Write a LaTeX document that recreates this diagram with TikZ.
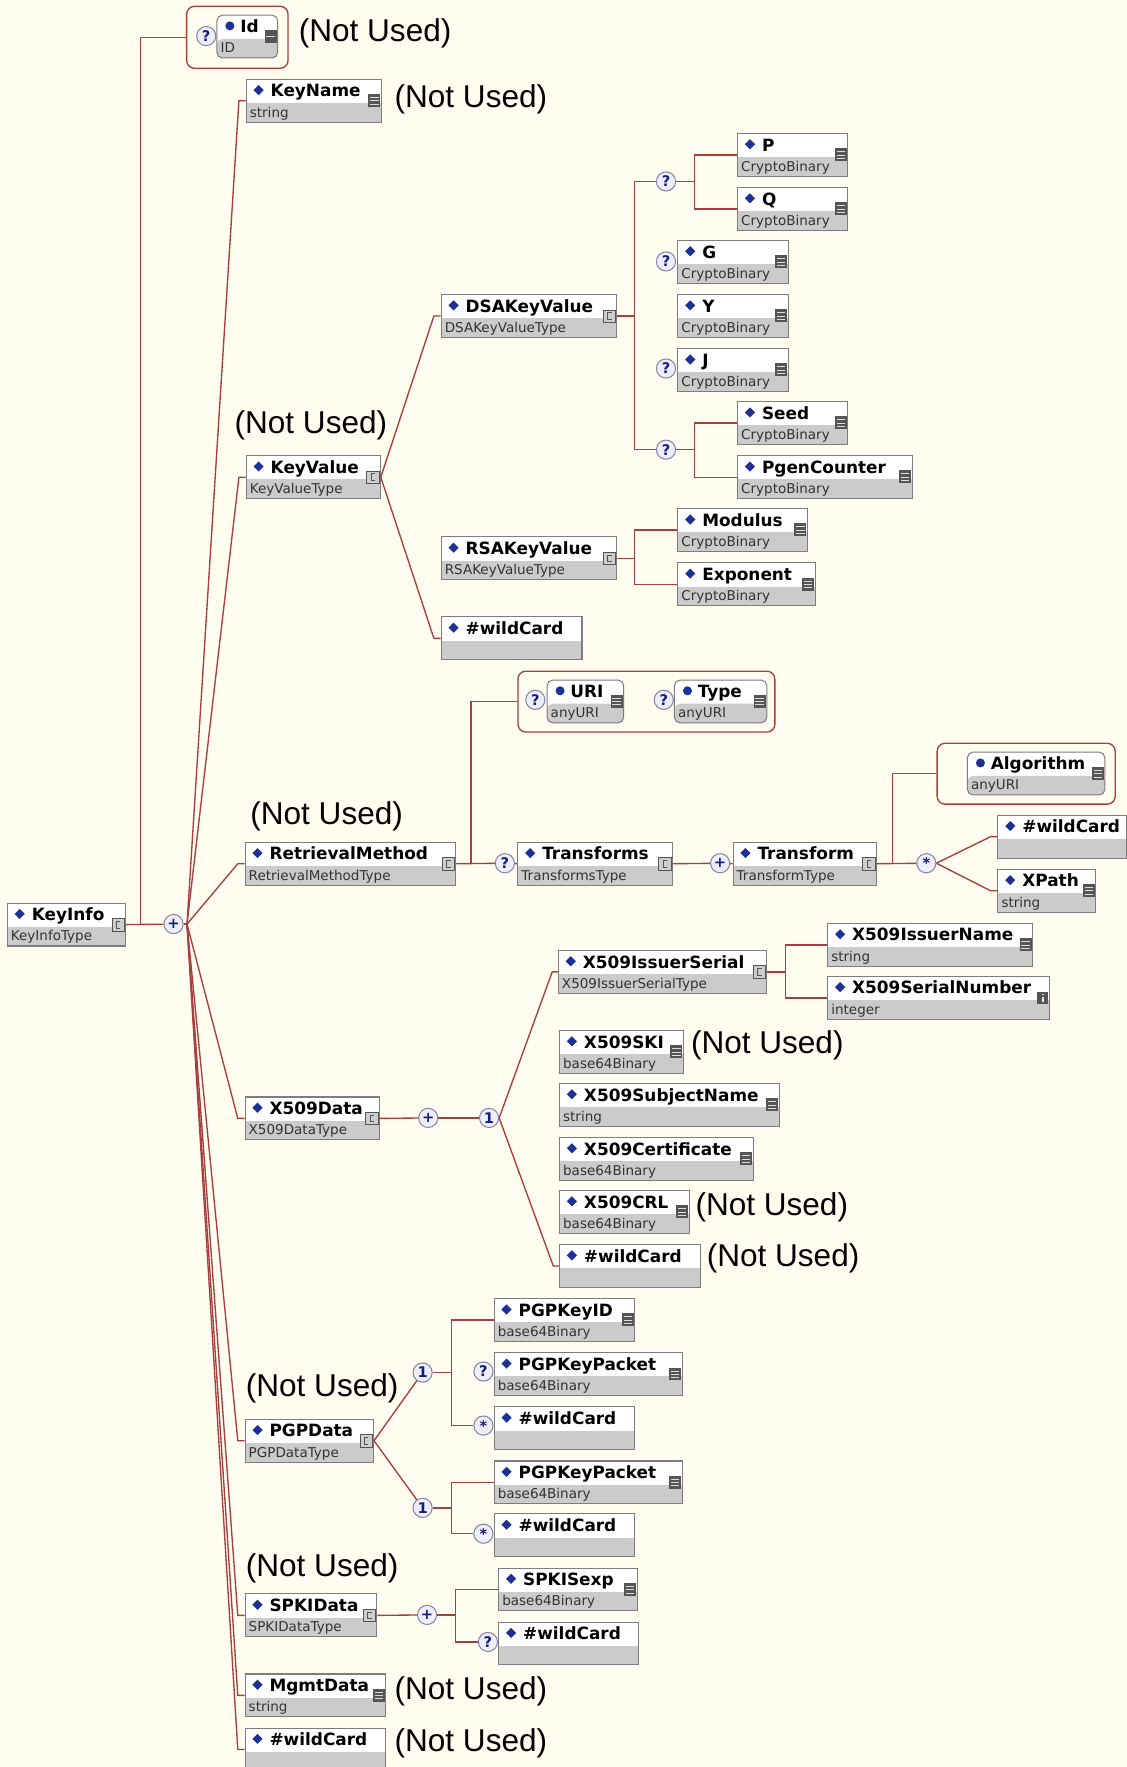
\documentclass[tikz,border=0pt]{standalone}
\usepackage{fontspec}
\newfontfamily\dvsans{DejaVu Sans}
\newfontfamily\arialike{Liberation Sans}

\definecolor{paper}{RGB}{255,253,240}
\definecolor{wire}{RGB}{168,62,62}
\definecolor{boxline}{RGB}{125,125,125}
\definecolor{rowgray}{RGB}{203,203,203}
\definecolor{elmark}{RGB}{28,48,150}
\definecolor{icondark}{RGB}{85,85,85}
\definecolor{iconlight}{RGB}{205,205,205}
\definecolor{compfill}{RGB}{238,238,250}
\definecolor{compline}{RGB}{130,130,165}
\definecolor{compmark}{RGB}{20,30,125}

\tikzset{
  elbox/.style={draw=boxline, line width=0.9pt, fill=white, minimum height=38pt,
    inner sep=0pt, anchor=north west,
    path picture={\fill[rowgray] ([yshift=-21pt]path picture bounding box.north west)
      rectangle (path picture bounding box.south east);}},
  atbox/.style={elbox, rounded corners=5pt},
  nametext/.style={anchor=base west, inner sep=0pt,
    font=\dvsans\bfseries\fontsize{15}{15}\selectfont},
  typetext/.style={anchor=base west, inner sep=0pt, text=black!80,
    font=\dvsans\fontsize{12}{12}\selectfont},
  conn/.style={draw=wire, line width=1.2pt},
  grpbox/.style={draw=wire, line width=1.2pt, rounded corners=7pt,
    anchor=north west, inner sep=0pt},
  compo/.style={circle, draw=compline, line width=0.9pt, fill=compfill,
    minimum size=17pt, inner sep=0pt, text=compmark,
    font=\dvsans\bfseries\fontsize{13}{13}\selectfont},
  unused/.style={anchor=west, inner sep=0pt,
    font=\arialike\fontsize{28}{28}\selectfont},
}

% small type icons at the right edge of an element box
\newcommand\icdoc[1]{%
  \fill[icondark] ([shift={(-12pt,-13.5pt)}]#1.north east) rectangle ([shift={(-1.5pt,-25pt)}]#1.north east);
  \foreach \k in {16.5,19.5,22.5}{\draw[white!80!icondark, line width=0.7pt]
    ([shift={(-10.5pt,-\k pt)}]#1.north east) -- ([shift={(-3pt,-\k pt)}]#1.north east);}}
\newcommand\icbar[1]{%
  \fill[icondark] ([shift={(-12pt,-14pt)}]#1.north east) rectangle ([shift={(-1.5pt,-25pt)}]#1.north east);
  \draw[white!80!icondark, line width=0.8pt]
    ([shift={(-10.5pt,-19.5pt)}]#1.north east) -- ([shift={(-3pt,-19.5pt)}]#1.north east);}
\newcommand\iccplx[1]{%
  \filldraw[fill=iconlight, draw=icondark, line width=0.6pt]
    ([shift={(-12.5pt,-14pt)}]#1.north east) rectangle ([shift={(-1.5pt,-25pt)}]#1.north east);
  \draw[icondark, line width=0.8pt] ([shift={(-5pt,-16.5pt)}]#1.north east)
    -- ++(-3.5pt,0) -- ++(0,-6pt) -- ++(3.5pt,0);}
\newcommand\icint[1]{%
  \fill[icondark] ([shift={(-12pt,-14pt)}]#1.north east) rectangle ([shift={(-1.5pt,-25pt)}]#1.north east);
  \fill[white!85!icondark] ([shift={(-7.6pt,-15.8pt)}]#1.north east) rectangle ([shift={(-5.9pt,-17.3pt)}]#1.north east);
  \fill[white!85!icondark] ([shift={(-7.6pt,-18.5pt)}]#1.north east) rectangle ([shift={(-5.9pt,-23.2pt)}]#1.north east);}
\newcommand\icnone[1]{}

% element box: name, x, y (top left), width, label, type, icon
\newcommand\elem[7]{%
  \node[elbox, minimum width=#4pt] (#1) at (#2,#3) {};
  \fill[elmark] ([shift={(7pt,-10pt)}]#1.north west) -- ++(4.5pt,4.5pt) -- ++(4.5pt,-4.5pt)
    -- ++(-4.5pt,-4.5pt) -- cycle;
  \node[nametext] (#1-n) at ([shift={(22pt,-16pt)}]#1.north west) {#5};
  \node[typetext] (#1-t) at ([shift={(3.5pt,-34pt)}]#1.north west) {#6};
  \csname ic#7\endcsname{#1}}

% attribute box: name, x, y, width, label, type, icon
\newcommand\attr[7]{%
  \node[atbox, minimum width=#4pt] (#1) at (#2,#3) {};
  \fill[elmark] ([shift={(12pt,-10pt)}]#1.north west) circle (4pt);
  \node[nametext] (#1-n) at ([shift={(21pt,-16pt)}]#1.north west) {#5};
  \node[typetext] (#1-t) at ([shift={(3.5pt,-34pt)}]#1.north west) {#6};
  \csname ic#7\endcsname{#1}}

% compositor circle
\newcommand\comp[4]{\node[compo] (#1) at (#2,#3) {#4};}

\begin{document}
\begin{tikzpicture}[x=1pt, y=-1pt]
\useasboundingbox (0,0) rectangle (1000,1568);
\clip (0,0) rectangle (1000,1568);
\fill[paper] (0,0) rectangle (1000,1568);

% ---------- groups of attributes
\node[grpbox, minimum width=90pt, minimum height=55pt] (idgrp) at (165,5) {};
\node[grpbox, minimum width=228pt, minimum height=54pt] (urigrp) at (459,595) {};
\node[grpbox, minimum width=158pt, minimum height=54pt] (alggrp) at (831,659) {};

% ---------- elements
\elem{keyinfo}{6}{801}{105}{KeyInfo}{KeyInfoType}{cplx}
\attr{idattr}{192}{13}{54}{Id}{ID}{bar}
\elem{keyname}{218}{70}{120}{KeyName}{string}{doc}
\elem{keyvalue}{218}{404}{119}{KeyValue}{KeyValueType}{cplx}
\elem{dsa}{391}{261}{156}{DSAKeyValue}{DSAKeyValueType}{cplx}
\elem{p}{654}{118}{98}{P}{CryptoBinary}{doc}
\elem{q}{654}{166}{98}{Q}{CryptoBinary}{doc}
\elem{g}{601}{213}{98}{G}{CryptoBinary}{doc}
\elem{yy}{601}{261}{98}{Y}{CryptoBinary}{doc}
\elem{j}{601}{309}{98}{J}{CryptoBinary}{doc}
\elem{seed}{654}{356}{98}{Seed}{CryptoBinary}{doc}
\elem{pgen}{654}{404}{155}{PgenCounter}{CryptoBinary}{doc}
\elem{rsa}{391}{476}{156}{RSAKeyValue}{RSAKeyValueType}{cplx}
\elem{modulus}{601}{451}{115}{Modulus}{CryptoBinary}{doc}
\elem{exponent}{601}{499}{122}{Exponent}{CryptoBinary}{doc}
\elem{kvwild}{391}{547}{125}{\#wildCard}{}{none}
\elem{retr}{217}{747}{187}{RetrievalMethod}{RetrievalMethodType}{cplx}
\attr{uri}{485}{603}{68}{URI}{anyURI}{doc}
\attr{typeattr}{598}{603}{82}{Type}{anyURI}{doc}
\elem{transforms}{459}{747}{137}{Transforms}{TransformsType}{cplx}
\elem{transform}{650}{747}{127}{Transform}{TransformType}{cplx}
\attr{alg}{858}{667}{122}{Algorithm}{anyURI}{doc}
\elem{tfwild}{885}{723}{114}{\#wildCard}{}{none}
\elem{xpath}{885}{771}{87}{XPath}{string}{doc}
\elem{x509}{217}{973}{119}{X509Data}{X509DataType}{cplx}
\elem{issuerserial}{495}{843}{185}{X509IssuerSerial}{X509IssuerSerialType}{cplx}
\elem{issuername}{734}{819}{182}{X509IssuerName}{string}{doc}
\elem{serialnum}{734}{866}{197}{X509SerialNumber}{integer}{int}
\elem{ski}{496}{914}{110}{X509SKI}{base64Binary}{doc}
\elem{subj}{496}{961}{195}{X509SubjectName}{string}{doc}
\elem{cert}{496}{1009}{172}{X509Certificate}{base64Binary}{doc}
\elem{crl}{496}{1056}{115}{X509CRL}{base64Binary}{doc}
\elem{xwild}{496}{1104}{125}{\#wildCard}{}{none}
\elem{pgp}{217}{1259}{114}{PGPData}{PGPDataType}{cplx}
\elem{keyid}{438}{1152}{125}{PGPKeyID}{base64Binary}{doc}
\elem{packeta}{438}{1200}{167}{PGPKeyPacket}{base64Binary}{doc}
\elem{pwilda}{438}{1248}{125}{\#wildCard}{}{none}
\elem{packetb}{438}{1296}{167}{PGPKeyPacket}{base64Binary}{doc}
\elem{pwildb}{438}{1343}{125}{\#wildCard}{}{none}
\elem{spki}{217}{1414}{117}{SPKIData}{SPKIDataType}{cplx}
\elem{sexp}{442}{1391}{123}{SPKISexp}{base64Binary}{doc}
\elem{swild}{442}{1439}{124}{\#wildCard}{}{none}
\elem{mgmt}{217}{1485}{125}{MgmtData}{string}{doc}
\elem{kiwild}{217}{1533}{125}{\#wildCard}{}{none}

% ---------- compositors
\comp{c-id}{183}{32}{?}
\comp{c-ki}{154}{820}{+}
\comp{c-pq}{591}{161}{?}
\comp{c-g}{591}{232}{?}
\comp{c-j}{591}{327}{?}
\comp{c-sd}{591}{399}{?}
\comp{c-uri}{475}{621}{?}
\comp{c-type}{589}{621}{?}
\comp{c-tr}{448}{766}{?}
\comp{c-tf}{639}{766}{+}
\comp{c-st}{822}{766}{\raisebox{-3pt}{*}}
\comp{c-xa}{380}{992}{+}
\comp{c-xb}{434}{992}{1}
\comp{c-pa}{375}{1218}{1}
\comp{c-pkp}{429}{1217}{?}
\comp{c-pwa}{429}{1265}{\raisebox{-3pt}{*}}
\comp{c-pb}{375}{1338}{1}
\comp{c-pwb}{429}{1361}{\raisebox{-3pt}{*}}
\comp{c-sa}{379}{1433}{+}
\comp{c-sb}{433}{1457}{?}

% ---------- connectors
% KeyInfo
\draw[conn] (keyinfo.east) -- (c-ki);
\draw[conn] ([xshift=13pt]keyinfo.east) |- (idgrp.west);
\coordinate (kifan) at ([xshift=3pt]c-ki.east);
\draw[conn] (c-ki.east) -- (kifan);
\foreach \n in {keyname,keyvalue,retr,x509,pgp,spki,mgmt,kiwild}
  \draw[conn] (kifan) -- ([xshift=-6pt]\n.west) -- (\n.west);

% KeyValue
\draw[conn] (keyvalue.east) -- ([xshift=-6pt]dsa.west) -- (dsa.west);
\draw[conn] (keyvalue.east) -- ([xshift=-6pt]kvwild.west) -- (kvwild.west);
\draw[conn] (dsa.east) -- ++(15pt,0) coordinate (dsaS);
\draw[conn] (c-pq.west) -| (dsaS) |- (c-sd.west);
\draw[conn] (c-pq.east) -- ++(16.5pt,0) coordinate (pqS);
\draw[conn] (p.west) -| (pqS) |- (q.west);
\draw[conn] (c-sd.east) -- ++(16.5pt,0) coordinate (sdS);
\draw[conn] (seed.west) -| (sdS) |- (pgen.west);
\draw[conn] (rsa.east) -- ++(15pt,0) coordinate (rsaS);
\draw[conn] (modulus.west) -| (rsaS) |- (exponent.west);

% RetrievalMethod
\draw[conn] (retr.east) -- ++(13pt,0) |- (urigrp.west);
\draw[conn] (retr.east) -- (c-tr);
\draw[conn] (c-tr) -- (transforms.west);
\draw[conn] (transforms.east) -- (c-tf);
\draw[conn] (c-tf) -- (transform.west);
\draw[conn] (transform.east) -- ++(14pt,0) |- (alggrp.west);
\draw[conn] (transform.east) -- (c-st);
\draw[conn] (c-st.east) -- ([xshift=-6pt]tfwild.west) -- (tfwild.west);
\draw[conn] (c-st.east) -- ([xshift=-6pt]xpath.west) -- (xpath.west);

% X509Data
\draw[conn] (x509.east) -- (c-xa);
\draw[conn] (c-xa) -- (c-xb);
\draw[conn] (c-xb.east) -- ([xshift=-5pt]issuerserial.west) -- (issuerserial.west);
\draw[conn] (c-xb.east) -- ([xshift=-5pt]xwild.west) -- (xwild.west);
\draw[conn] (issuerserial.east) -- ++(16pt,0) coordinate (isS);
\draw[conn] (issuername.west) -| (isS) |- (serialnum.west);

% PGPData
\draw[conn] (pgp.east) -- (c-pa);
\draw[conn] (pgp.east) -- (c-pb);
\draw[conn] (c-pa.east) -- ++(16.5pt,0) coordinate (paS);
\draw[conn] (keyid.west) -| (paS) |- (c-pwa.west);
\draw[conn] (c-pb.east) -- ++(16.5pt,0) coordinate (pbS);
\draw[conn] (packetb.west) -| (pbS) |- (c-pwb.west);

% SPKIData
\draw[conn] (spki.east) -- (c-sa);
\draw[conn] (c-sa.east) -- ++(16.5pt,0) coordinate (saS);
\draw[conn] (sexp.west) -| (saS) |- (c-sb.west);

% ---------- notes
\node[unused] (nu-id) at (265,30) {(Not Used)};
\node[unused] (nu-kn) at (350,88) {(Not Used)};
\node[unused] (nu-kv) at (208,377) {(Not Used)};
\node[unused] (nu-rm) at (222,724) {(Not Used)};
\node[unused] (nu-ski) at (613,928) {(Not Used)};
\node[unused] (nu-crl) at (617,1071) {(Not Used)};
\node[unused] (nu-xw) at (627,1117) {(Not Used)};
\node[unused] (nu-pgp) at (218,1232) {(Not Used)};
\node[unused] (nu-spki) at (218,1392) {(Not Used)};
\node[unused] (nu-mg) at (350,1501) {(Not Used)};
\node[unused] (nu-kw) at (350,1547) {(Not Used)};
\end{tikzpicture}
\end{document}
